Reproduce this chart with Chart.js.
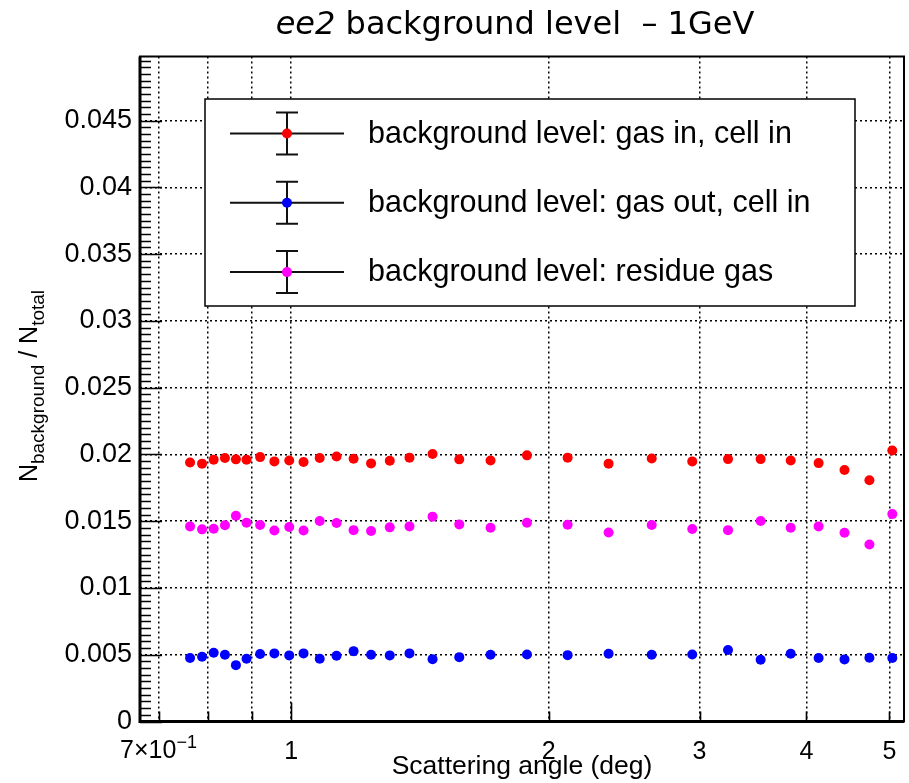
<!DOCTYPE html>
<html>
<head>
<meta charset="utf-8">
<title>ee2 background level – 1GeV</title>
<script src="https://cdn.jsdelivr.net/npm/chart.js@4.4.1/dist/chart.umd.min.js"></script>
<style>
  html, body { margin: 0; background: #fff; }
  canvas { display: block; }
</style>
</head>
<body>
<canvas id="c" width="909" height="783"></canvas>
<script>
/* ee2 background level vs scattering angle, 1 GeV — ROOT-style frame drawn with Chart.js */

// ── data ───────────────────────────────────────────────────────────
const angle = [0.762, 0.787, 0.812, 0.837, 0.862, 0.887, 0.920, 0.956, 0.995, 1.034,
  1.080, 1.130, 1.183, 1.240, 1.304, 1.375, 1.463, 1.572, 1.710, 1.886,
  2.104, 2.349, 2.638, 2.942, 3.239, 3.536, 3.834, 4.133, 4.431, 4.738, 5.039];

const gasInCellIn = [0.01940, 0.01931, 0.01961, 0.01973, 0.01963, 0.01961, 0.01980, 0.01948, 0.01955, 0.01943,
  0.01973, 0.01985, 0.01968, 0.01933, 0.01953, 0.01976, 0.02003, 0.01963, 0.01955, 0.01993,
  0.01976, 0.01931, 0.01970, 0.01948, 0.01965, 0.01965, 0.01955, 0.01935, 0.01883, 0.01806, 0.02030];

const gasOutCellIn = [0.00475, 0.00485, 0.00515, 0.00500, 0.00422, 0.00470, 0.00505, 0.00510, 0.00495, 0.00510,
  0.00470, 0.00493, 0.00527, 0.00500, 0.00495, 0.00510, 0.00467, 0.00482, 0.00500, 0.00502,
  0.00497, 0.00508, 0.00500, 0.00502, 0.00535, 0.00463, 0.00508, 0.00475, 0.00465, 0.00478, 0.00475];

const residueGas = [0.01461, 0.01439, 0.01444, 0.01469, 0.01541, 0.01489, 0.01471, 0.01431, 0.01456, 0.01431,
  0.01501, 0.01486, 0.01433, 0.01426, 0.01454, 0.01461, 0.01534, 0.01476, 0.01451, 0.01489,
  0.01474, 0.01416, 0.01471, 0.01441, 0.01433, 0.01501, 0.01451, 0.01461, 0.01414, 0.01326, 0.01553];

const seriesLabels = ["background level: gas in, cell in", "background level: gas out, cell in", "background level: residue gas"];
const seriesColors = ["#ff0000", "#0000ff", "#ff00ff"];

// ── axes ───────────────────────────────────────────────────────────
const xTicks = [0.7, 0.8, 0.9, 1, 2, 3, 4, 5];
const xTickLabels = ["", "", "", "1", "2", "3", "4", "5"];
const xFirstLabel = ["7×10", "−1"]; // mantissa, exponent of the first tick
const yTicks = [0, 0.005, 0.01, 0.015, 0.02, 0.025, 0.03, 0.035, 0.04, 0.045];
const yMinorStep = 0.0005;

const SANS = "'Liberation Sans', Arial, Helvetica, sans-serif";
const R = 5; // marker radius

// ── ROOT-ish decorations: inward ticks, frame, title, y title, legend ──
const rootFrame = {
  id: "rootFrame",
  afterDraw(chart) {
    const ctx = chart.ctx;
    const { left, right, top, bottom } = chart.chartArea;
    const xs = chart.scales.x, ys = chart.scales.y;
    ctx.save();
    ctx.strokeStyle = "#000";

    // y ticks, every 0.0005, long ones on the labelled values
    ctx.lineWidth = 1.6;
    ctx.beginPath();
    for (let i = 0; i * yMinorStep <= ys.max + 1e-9; i++) {
      const py = Math.round(ys.getPixelForValue(i * yMinorStep)) + 0.5;
      const len = i % 10 === 0 ? 22 : 11;
      ctx.moveTo(left, py); ctx.lineTo(left + len, py);
    }
    // x ticks, the decade one longer
    xTicks.forEach((v) => {
      const px = Math.round(xs.getPixelForValue(v)) + 0.5;
      ctx.moveTo(px, bottom); ctx.lineTo(px, bottom - (v === 1 ? 19 : 10));
    });
    ctx.stroke();

    // frame
    ctx.lineWidth = 2;
    ctx.strokeRect(left, top, right - left, bottom - top);
    ctx.lineWidth = 3;
    ctx.beginPath();
    ctx.moveTo(left, top); ctx.lineTo(left, bottom); ctx.lineTo(right, bottom);
    ctx.stroke();

    ctx.fillStyle = "#000";
    ctx.textBaseline = "alphabetic";
    ctx.textAlign = "left";

    // first x label with a raised exponent
    ctx.font = "25px " + SANS;
    const m = ctx.measureText(xFirstLabel[0]).width;
    ctx.font = "18px " + SANS;
    const e = ctx.measureText(xFirstLabel[1]).width;
    const x0 = xs.getPixelForValue(xTicks[0]) - (m + e) / 2;
    ctx.font = "25px " + SANS;
    ctx.fillText(xFirstLabel[0], x0, 758);
    ctx.font = "18px " + SANS;
    ctx.fillText(xFirstLabel[1], x0 + m, 748);

    // title: italic run name + rest
    const tItal = "ee2", tRest = " background level  – 1GeV";
    ctx.font = "italic 32px 'DejaVu Sans'";
    const w1 = ctx.measureText(tItal).width;
    ctx.font = "32px 'DejaVu Sans'";
    const w2 = ctx.measureText(tRest).width;
    const tx = 515 - (w1 + w2) / 2;
    ctx.font = "italic 32px 'DejaVu Sans'";
    ctx.fillText(tItal, tx, 34);
    ctx.font = "32px 'DejaVu Sans'";
    ctx.fillText(tRest, tx + w1, 34);

    // y title N_background / N_total, rotated
    const parts = [["N", 25, 0], ["background", 19, 7], [" / N", 25, 0], ["total", 19, 7]];
    let tw = 0;
    parts.forEach(([s, f]) => { ctx.font = f + "px " + SANS; tw += ctx.measureText(s).width; });
    ctx.translate(37, 386 + tw / 2);
    ctx.rotate(-Math.PI / 2);
    let ox = 0;
    parts.forEach(([s, f, dy]) => {
      ctx.font = f + "px " + SANS;
      ctx.fillText(s, ox, dy);
      ox += ctx.measureText(s).width;
    });
    ctx.setTransform(1, 0, 0, 1, 0, 0);

    // legend box
    const lx = 205, ly = 99, lw = 650, lh = 207;
    ctx.fillStyle = "#fff";
    ctx.fillRect(lx, ly, lw, lh);
    ctx.lineWidth = 1.5;
    ctx.strokeStyle = "#000";
    ctx.strokeRect(lx, ly, lw, lh);
    chart.data.datasets.forEach((ds, i) => {
      const cy = 133.5 + i * 69.3, mx = 287;
      ctx.strokeStyle = "#111";
      ctx.lineWidth = 2;
      ctx.beginPath();
      ctx.moveTo(230, cy); ctx.lineTo(344, cy);
      ctx.moveTo(mx, cy - 21); ctx.lineTo(mx, cy + 21);
      ctx.moveTo(mx - 11, cy - 21); ctx.lineTo(mx + 11, cy - 21);
      ctx.moveTo(mx - 11, cy + 21); ctx.lineTo(mx + 11, cy + 21);
      ctx.stroke();
      ctx.fillStyle = ds.backgroundColor;
      ctx.beginPath(); ctx.arc(mx, cy, R, 0, Math.PI * 2); ctx.fill();
      ctx.fillStyle = "#000";
      ctx.font = "30.5px " + SANS;
      ctx.fillText(ds.label, 368, cy + 9);
    });
    ctx.restore();
  },
};

// ── chart ──────────────────────────────────────────────────────────
const datasets = [gasInCellIn, gasOutCellIn, residueGas].map((vals, i) => ({
  label: seriesLabels[i],
  data: angle.map((a, j) => ({ x: a, y: vals[j] })),
  backgroundColor: seriesColors[i],
  borderColor: seriesColors[i],
  pointRadius: R,
  pointHoverRadius: R,
  pointBorderWidth: 0,
}));

new Chart(document.getElementById("c"), {
  type: "scatter",
  data: { datasets },
  options: {
    responsive: false,
    animation: false,
    devicePixelRatio: 1,
    layout: { padding: { top: 56.5, right: 2, left: 0, bottom: 0 } },
    plugins: { legend: { display: false }, tooltip: { enabled: false } },
    scales: {
      x: {
        type: "logarithmic",
        min: 0.666,
        max: 5.2,
        afterFit: (s) => { s.height = 61.5; },
        afterBuildTicks: (s) => { s.ticks = xTicks.map((v) => ({ value: v })); },
        ticks: {
          autoSkip: false, maxRotation: 0, padding: 0, color: "#000",
          font: { family: SANS, size: 25 },
          callback: (v) => xTickLabels[xTicks.indexOf(v)] ?? "",
        },
        // invisible tick marks only push the labels down; real ticks are drawn inward by the plugin
        grid: { drawTicks: true, tickLength: 16, tickColor: "rgba(0,0,0,0)", color: "#000", lineWidth: 1.5 },
        border: { display: false, dash: [2, 3] },
        title: {
          display: true, text: "Scattering angle (deg)", color: "#000",
          font: { family: SANS, size: 26.5 }, padding: { top: 0, bottom: 0 },
        },
      },
      y: {
        min: 0,
        max: 0.0498,
        afterFit: (s) => { s.width = 140; },
        afterBuildTicks: (s) => { s.ticks = yTicks.map((v) => ({ value: v })); },
        ticks: {
          padding: 8, color: "#000",
          font: { family: SANS, size: 27 },
          callback: (v) => String(v),
        },
        grid: { drawTicks: false, color: "#000", lineWidth: 1.5 },
        border: { display: false, dash: [2, 3] },
      },
    },
  },
  plugins: [rootFrame],
});
</script>
</body>
</html>
